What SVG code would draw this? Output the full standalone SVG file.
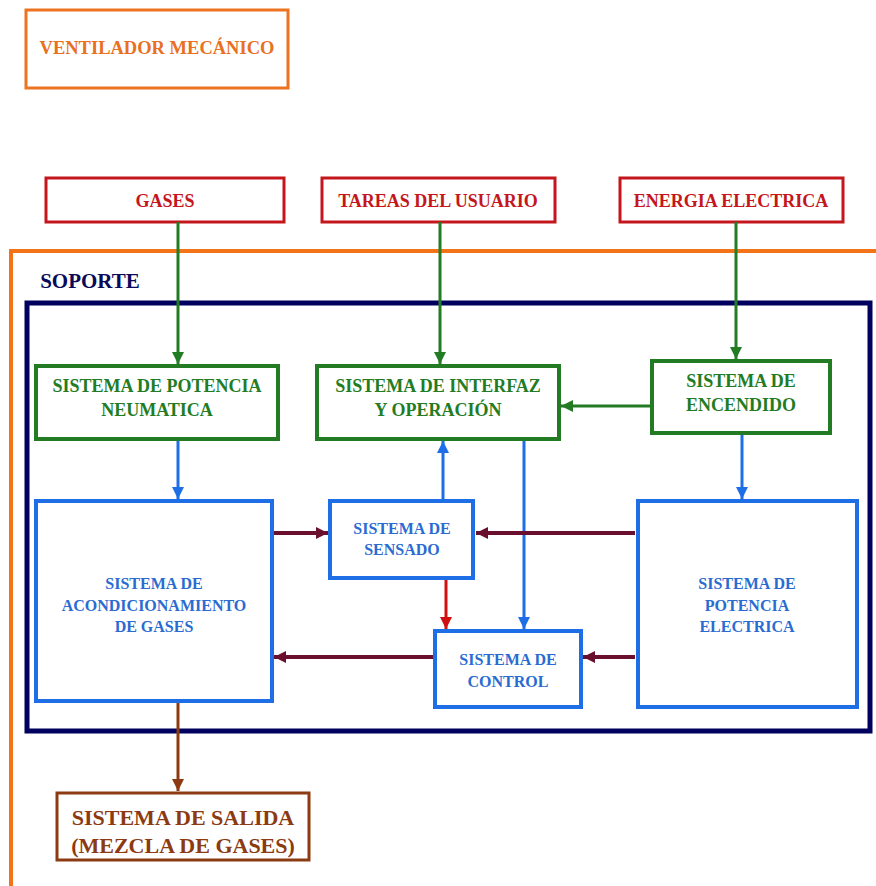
<svg xmlns="http://www.w3.org/2000/svg" width="876" height="886" viewBox="0 0 876 886">
<style>
.red{fill:none;stroke:#C4161C;stroke-width:3}
.grn{fill:#fff;stroke:#237C23;stroke-width:4}
.blu{fill:#fff;stroke:#1E6FE6;stroke-width:4}
.tr{fill:#C4161C;font-size:18px}
.tg{fill:#237C23;font-size:18px}
.tb{fill:#2A6BD2;font-size:16px}
.cg{stroke:#237C23;stroke-width:3;fill:none}
.cb{stroke:#1E6FE6;stroke-width:3;fill:none}
.cm{stroke:#6B0F2E;stroke-width:4;fill:none}
.cr{stroke:#D01010;stroke-width:3;fill:none}
.cw{stroke:#8B3A12;stroke-width:3;fill:none}
</style>
<defs>
<marker id="ag" markerUnits="userSpaceOnUse" markerWidth="14" markerHeight="14" refX="12" refY="6" orient="auto"><path d="M0,0L12,6L0,12Z" fill="#237C23"/></marker>
<marker id="ab" markerUnits="userSpaceOnUse" markerWidth="14" markerHeight="14" refX="12" refY="6" orient="auto"><path d="M0,0L12,6L0,12Z" fill="#1E6FE6"/></marker>
<marker id="am" markerUnits="userSpaceOnUse" markerWidth="14" markerHeight="14" refX="12" refY="6" orient="auto"><path d="M0,0L12,6L0,12Z" fill="#6B0F2E"/></marker>
<marker id="ar" markerUnits="userSpaceOnUse" markerWidth="14" markerHeight="14" refX="12" refY="6" orient="auto"><path d="M0,0L12,6L0,12Z" fill="#D01010"/></marker>
<marker id="aw" markerUnits="userSpaceOnUse" markerWidth="14" markerHeight="14" refX="12" refY="6" orient="auto"><path d="M0,0L12,6L0,12Z" fill="#8B3A12"/></marker>
</defs>
<rect width="876" height="886" fill="#fff"/>
<g font-family="Liberation Serif, Times New Roman, Times, serif" font-weight="bold" text-anchor="middle">

<g id="ventilador">
<rect x="26" y="10" width="262" height="78" fill="none" stroke="#EE7320" stroke-width="3"/>
<text x="157" y="54" fill="#E8701E" font-size="18.5">VENTILADOR MECÁNICO</text>
</g>

<g id="soporte-frame">
<rect x="11" y="251" width="900" height="640" fill="none" stroke="#F27318" stroke-width="4"/>
<text x="90" y="288" fill="#0A0A5A" font-size="21">SOPORTE</text>
<rect x="27" y="303" width="843" height="428" fill="none" stroke="#00005E" stroke-width="5"/>
</g>

<g id="gases"><rect class="red" x="46" y="178" width="238" height="44"/><text class="tr" x="165" y="207">GASES</text></g>
<g id="tareas"><rect class="red" x="322" y="178" width="233" height="44"/><text class="tr" x="438" y="207">TAREAS DEL USUARIO</text></g>
<g id="energia"><rect class="red" x="620" y="178" width="223" height="44"/><text class="tr" x="731" y="207">ENERGIA ELECTRICA</text></g>

<g id="connectors">
<path class="cg" d="M178,222V364" marker-end="url(#ag)"/>
<path class="cg" d="M440,222V364" marker-end="url(#ag)"/>
<path class="cg" d="M736,222V359" marker-end="url(#ag)"/>
<path class="cg" d="M650,406H561" marker-end="url(#ag)"/>
<path class="cb" d="M178,441V499" marker-end="url(#ab)"/>
<path class="cb" d="M443,499V441" marker-end="url(#ab)"/>
<path class="cb" d="M524,441V629" marker-end="url(#ab)"/>
<path class="cb" d="M742,434V499" marker-end="url(#ab)"/>
<path class="cr" d="M446,580V629" marker-end="url(#ar)"/>
<path class="cm" d="M274,533H328" marker-end="url(#am)"/>
<path class="cm" d="M635,533H476" marker-end="url(#am)"/>
<path class="cm" d="M433,657H274" marker-end="url(#am)"/>
<path class="cm" d="M635,657H583" marker-end="url(#am)"/>
<path class="cw" d="M178,703V791" marker-end="url(#aw)"/>
</g>

<g id="neumatica"><rect class="grn" x="36" y="366" width="242" height="73"/><text class="tg" x="157" y="392">SISTEMA DE POTENCIA</text><text class="tg" x="157" y="416">NEUMATICA</text></g>
<g id="interfaz"><rect class="grn" x="317" y="366" width="242" height="73"/><text class="tg" x="438" y="392">SISTEMA DE INTERFAZ</text><text class="tg" x="438" y="416">Y OPERACIÓN</text></g>
<g id="encendido"><rect class="grn" x="652" y="361" width="178" height="72"/><text class="tg" x="741" y="387">SISTEMA DE</text><text class="tg" x="741" y="411">ENCENDIDO</text></g>

<g id="acondicionamiento"><rect class="blu" x="36" y="501" width="236" height="200"/><text class="tb" x="154" y="589">SISTEMA DE</text><text class="tb" x="154" y="611">ACONDICIONAMIENTO</text><text class="tb" x="154" y="632">DE GASES</text></g>
<g id="sensado"><rect class="blu" x="330" y="501" width="143" height="77"/><text class="tb" x="402" y="534">SISTEMA DE</text><text class="tb" x="402" y="555">SENSADO</text></g>
<g id="control"><rect class="blu" x="435" y="631" width="146" height="76"/><text class="tb" x="508" y="665">SISTEMA DE</text><text class="tb" x="508" y="687">CONTROL</text></g>
<g id="potencia-electrica"><rect class="blu" x="638" y="501" width="219" height="206"/><text class="tb" x="747" y="589">SISTEMA DE</text><text class="tb" x="747" y="611">POTENCIA</text><text class="tb" x="747" y="632">ELECTRICA</text></g>

<g id="salida"><rect x="57" y="793" width="252" height="67" fill="#fff" stroke="#8B3A12" stroke-width="3"/><text x="183" y="825" fill="#8B3A12" font-size="22">SISTEMA DE SALIDA</text><text x="183" y="853" fill="#8B3A12" font-size="22">(MEZCLA DE GASES)</text></g>
</g>
</svg>
